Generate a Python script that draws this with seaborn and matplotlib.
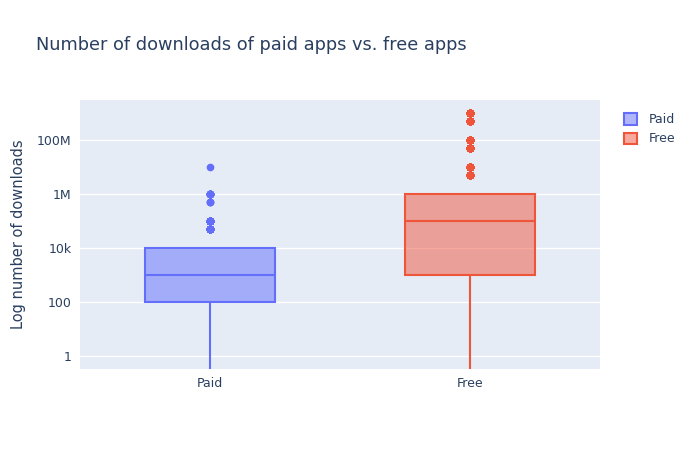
import seaborn as sns
import matplotlib.pyplot as plt
import pandas as pd
import numpy as np
from matplotlib.patches import Patch
from matplotlib.ticker import FixedLocator, NullLocator

# install levels (Google Play style) and number of apps per level
levels = [0, 1, 5, 10, 50, 100, 500, 1000, 5000, 10000, 50000, 100000,
          500000, 1000000, 5000000, 10000000, 50000000, 100000000,
          500000000, 1000000000]
paid_counts = [5, 30, 20, 50, 40, 80, 60, 100, 40, 80, 30, 40,
               3, 10, 0, 1, 0, 0, 0, 0]
free_counts = [10, 60, 80, 380, 200, 700, 330, 1100, 470, 1000, 470, 1150,
               540, 1500, 680, 1000, 200, 350, 60, 50]
types = ['Paid', 'Free']
colors = ['#636EFA', '#EF553B']
tick_vals = [1, 100, 1e4, 1e6, 1e8]
tick_labels = ['1', '100', '10k', '1M', '100M']

df = pd.concat([
    pd.DataFrame({'Type': 'Paid', 'Installs': np.repeat(levels, paid_counts)}),
    pd.DataFrame({'Type': 'Free', 'Installs': np.repeat(levels, free_counts)}),
])

fig = plt.figure(figsize=(6.94, 4.5), dpi=100)
ax = fig.add_axes([80/694, 1-369/450, 520/694, 269/450])
ax.set_facecolor('#E5ECF6')

for t, c in zip(types, colors):
    sns.boxplot(data=df[df.Type == t], x='Type', y='Installs', order=types,
                color=c, linecolor=c, width=0.5, linewidth=1.5, saturation=1,
                showcaps=False,
                flierprops=dict(marker='o', markerfacecolor=c, markeredgecolor=c,
                                markersize=4.5),
                ax=ax)

for p, c in zip(ax.patches, colors):
    p.set_alpha(None)
    r, g, b = plt.matplotlib.colors.to_rgb(c)
    p.set_facecolor((r, g, b, 0.5))
    p.set_edgecolor(c)

ax.set_yscale('log')
ax.set_ylim(10**-0.48, 10**9.48)
ax.set_xlim(-0.5, 1.5)
ax.yaxis.set_major_locator(FixedLocator(tick_vals))
ax.yaxis.set_minor_locator(NullLocator())
ax.set_yticklabels(tick_labels)
ax.grid(axis='y', color='white', linewidth=1)
ax.set_axisbelow(True)
for s in ax.spines.values():
    s.set_visible(False)
ax.tick_params(length=0, labelsize=9, colors='#2a3f5f', pad=6)
ax.set_xlabel('')
ax.set_ylabel('Log number of downloads', fontsize=10.5, color='#2a3f5f', labelpad=8)

fig.text(36/694, 1-45/450, 'Number of downloads of paid apps vs. free apps',
         fontsize=12.75, color='#2a3f5f', va='center')

handles = [Patch(facecolor=(*plt.matplotlib.colors.to_rgb(c), 0.5), edgecolor=c,
                 linewidth=1.5, label=t) for t, c in zip(types, colors)]
fig.legend(handles=handles, loc='upper left', bbox_to_anchor=(613/694, 1-102/450),
           frameon=False, fontsize=9, labelcolor='#2a3f5f', handlelength=1,
           handleheight=1, handletextpad=1, labelspacing=0.5)

fig.savefig('out.png', dpi=100)
